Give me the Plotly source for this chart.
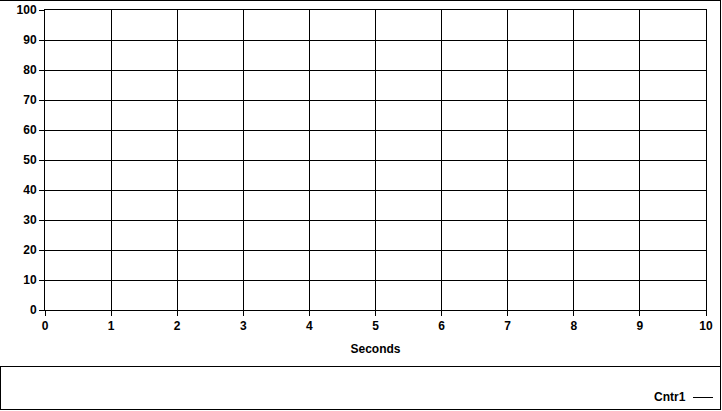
import plotly.graph_objects as go

# Data
series_name = "Cntr1"
series_x = []          # no data points visible in the chart
series_y = []
x_ticks = [0, 1, 2, 3, 4, 5, 6, 7, 8, 9, 10]
y_ticks = [0, 10, 20, 30, 40, 50, 60, 70, 80, 90, 100]
x_title = "Seconds"

W, H = 722, 411
L, R, T, B = 45, 706, 10, 310  # plot area in pixels

def px_x(p):
    return (p - L) / (R - L)

def px_y(p):
    return (B - p) / (B - T)

font = dict(family="Liberation Sans, Arial, sans-serif", size=12, color="black")

fig = go.Figure()
fig.add_trace(go.Scatter(x=series_x, y=series_y, mode="lines", name=series_name,
                         line=dict(color="black", width=1), showlegend=False))

fig.update_layout(
    width=W, height=H,
    margin=dict(l=L, r=W - R, t=T, b=H - B, pad=0, autoexpand=False),
    paper_bgcolor="white", plot_bgcolor="white",
    font=font,
    showlegend=False,
)

fig.update_xaxes(
    range=[x_ticks[0], x_ticks[-1]], tickvals=x_ticks,
    ticktext=[f"<b>{v}</b>" for v in x_ticks],
    showgrid=True, gridcolor="black", gridwidth=1,
    showline=True, linecolor="black", linewidth=1, mirror=True,
    ticks="outside", ticklen=5, tickcolor="black", tickwidth=1,
    zeroline=False, automargin=False,
    title=dict(text=f"<b>{x_title}</b>", standoff=12, font=font),
)
fig.update_yaxes(
    range=[y_ticks[0], y_ticks[-1]], tickvals=y_ticks,
    ticktext=[f"<b>{v}</b>" for v in y_ticks],
    showgrid=True, gridcolor="black", gridwidth=1,
    showline=True, linecolor="black", linewidth=1, mirror=True,
    ticks="outside", ticklen=5, tickcolor="black", tickwidth=1,
    zeroline=False, automargin=False,
)

line = dict(color="black", width=1)
shapes = [
    # outer frame: top, right, bottom
    dict(type="line", xref="paper", yref="paper", x0=px_x(0), x1=px_x(721), y0=px_y(0.5), y1=px_y(0.5), line=line),
    dict(type="line", xref="paper", yref="paper", x0=px_x(720.5), x1=px_x(720.5), y0=px_y(0), y1=px_y(410), line=line),
    dict(type="line", xref="paper", yref="paper", x0=px_x(0), x1=px_x(721), y0=px_y(409.5), y1=px_y(409.5), line=line),
    # legend box: separator and left edge
    dict(type="line", xref="paper", yref="paper", x0=px_x(0), x1=px_x(721), y0=px_y(366.5), y1=px_y(366.5), line=line),
    dict(type="line", xref="paper", yref="paper", x0=px_x(0.5), x1=px_x(0.5), y0=px_y(366), y1=px_y(410), line=line),
    # legend line sample
    dict(type="line", xref="paper", yref="paper", x0=px_x(693), x1=px_x(713), y0=px_y(397.5), y1=px_y(397.5), line=line),
]
fig.update_layout(shapes=shapes)

fig.add_annotation(
    xref="paper", yref="paper", x=px_x(688), y=px_y(397),
    xanchor="right", yanchor="middle", showarrow=False,
    text=f"<b>{series_name}</b>", font=font,
)

fig.write_html("out.html")
